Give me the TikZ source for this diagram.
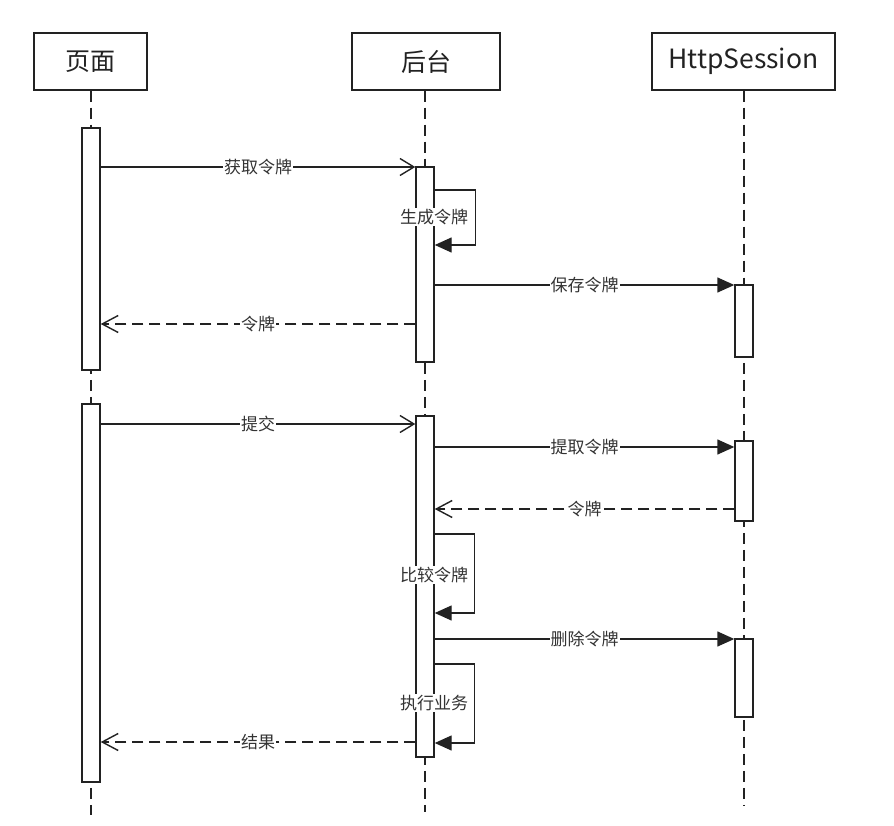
\documentclass[tikz,border=0pt]{standalone}
\usepackage{fontspec}
\setmainfont{Noto Sans CJK SC}
\usetikzlibrary{arrows.meta}
\definecolor{linec}{HTML}{222222}
\definecolor{textc}{HTML}{333333}
\tikzset{
  head/.style={draw=linec, line width=1.5pt, fill=white, minimum height=57pt, inner sep=0pt,
    text=linec, font=\fontsize{25}{30}\selectfont},
  actbar/.style={draw=linec, line width=1.4pt, fill=white, minimum width=18pt, inner sep=0pt},
  life/.style={draw=linec, line width=1.4pt, dash pattern=on 11pt off 6pt},
  lbl/.style={fill=white, inner sep=1pt, text=textc, font=\fontsize{17}{20}\selectfont},
  callmsg/.style={draw=linec, line width=1.4pt, -{Straight Barb[length=14pt,width=17pt,line width=1.4pt]}},
  syncmsg/.style={draw=linec, line width=1.4pt, -{Triangle[length=17pt,width=15pt]}},
  retmsg/.style={draw=linec, line width=1.4pt, dash pattern=on 11pt off 6pt,
    -{Straight Barb[length=16pt,width=17pt,line width=1.4pt,sep=0pt]}},
}
\begin{document}
\begin{tikzpicture}[x=1pt,y=-1pt]
\useasboundingbox[fill=white] (0,0) rectangle (894,826);
% heads
\node[head, minimum width=113pt] (hp) at (90.5,61.5) {页面};
\node[head, minimum width=148pt] (hb) at (426,61.5) {后台};
\node[head, minimum width=183pt, font=\fontsize{26.5}{30}\selectfont] (hh) at (743.5,61.5) {HttpSession};
% lifelines
\coordinate (ep) at (91,815);
\coordinate (eb) at (425,812);
\coordinate (eh) at (744,805);
\draw[life] (hp.south -| ep) -- (ep);
\draw[life] (hb.south -| eb) -- (eb);
\draw[life] (hh.south -| eh) -- (eh);
% activation bars
\node[actbar, minimum height=242pt] (p1) at (91,249) {};
\node[actbar, minimum height=378pt] (p2) at (91,593) {};
\node[actbar, minimum height=195pt] (b1) at (425,264.5) {};
\node[actbar, minimum height=341pt] (b2) at (425,586.5) {};
\node[actbar, minimum height=72pt] (h1) at (744,321) {};
\node[actbar, minimum height=80pt] (h2) at (744,481) {};
\node[actbar, minimum height=78pt] (h3) at (744,678) {};
% first round
\draw[callmsg] (p1.east |- 0,167) -- node[lbl] (m1) {获取令牌} (b1.west |- 0,167);
\draw[syncmsg] (b1.east |- 0,190) -- ++(41,0) |- (b1.east |- 0,245);
\node[lbl] (m2) at (434,217) {生成令牌};
\draw[syncmsg] (b1.east |- 0,285) -- node[lbl] (m3) {保存令牌} (h1.west |- 0,285);
\draw[retmsg] (b1.west |- 0,324) -- node[lbl] (m4) {令牌} (p1.east |- 0,324);
% second round
\draw[callmsg] (p2.east |- 0,424) -- node[lbl] (m5) {提交} (b2.west |- 0,424);
\draw[syncmsg] (b2.east |- 0,447) -- node[lbl] (m6) {提取令牌} (h2.west |- 0,447);
\draw[retmsg] (h2.west |- 0,509) -- node[lbl] (m7) {令牌} (b2.east |- 0,509);
\draw[syncmsg] (b2.east |- 0,534) -- ++(40,0) |- (b2.east |- 0,613);
\node[lbl] (m8) at (434,575) {比较令牌};
\draw[syncmsg] (b2.east |- 0,639) -- node[lbl] (m9) {删除令牌} (h3.west |- 0,639);
\draw[syncmsg] (b2.east |- 0,664) -- ++(40,0) |- (b2.east |- 0,743);
\node[lbl] (m10) at (434,703) {执行业务};
\draw[retmsg] (b2.west |- 0,742) -- node[lbl] (m11) {结果} (p2.east |- 0,742);
\end{tikzpicture}
\end{document}
